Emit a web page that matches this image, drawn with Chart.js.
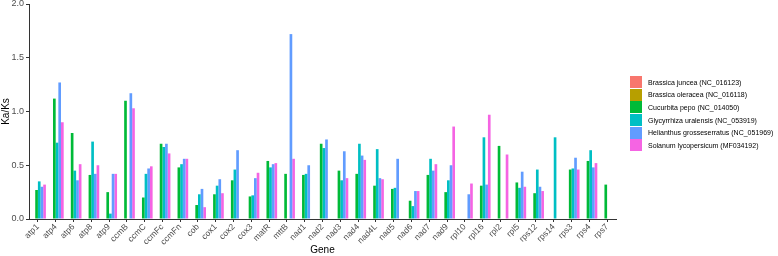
<!DOCTYPE html>
<html>
<head>
<meta charset="utf-8">
<script src="https://cdn.jsdelivr.net/npm/chart.js@4"></script>
<style>
  html, body { margin: 0; padding: 0; background: #fff; }
  #wrap { position: relative; width: 778px; height: 256px; }
  #legend { position: absolute; left: 630px; top: 76px; font-family: "Liberation Sans", Arial, sans-serif; font-size: 7px; color: #000; }
  #legend .row { height: 12.6px; display: flex; align-items: center; white-space: nowrap; }
  #legend .key { width: 12px; height: 12px; margin-right: 6px; }
</style>
</head>
<body>
<div id="wrap">
  <canvas id="chart" width="778" height="256"></canvas>
  <div id="legend"></div>
</div>
<script>
(function () {
  "use strict";

  const genes = ["atp1", "atp4", "atp6", "atp8", "atp9", "ccmB", "ccmC", "ccmFc", "ccmFn", "cob",
    "cox1", "cox2", "cox3", "matR", "mttB", "nad1", "nad2", "nad3", "nad4", "nad4L",
    "nad5", "nad6", "nad7", "nad9", "rpl10", "rpl16", "rpl2", "rpl5", "rps12", "rps14",
    "rps3", "rps4", "rps7"];

  const species = [
    "Brassica juncea (NC_016123)",
    "Brassica oleracea (NC_016118)",
    "Cucurbita pepo (NC_014050)",
    "Glycyrrhiza uralensis (NC_053919)",
    "Helianthus grosseserratus (NC_051969)",
    "Solanum lycopersicum (MF034192)",
  ];

  const colors = ["#F8766D", "#B79F00", "#00BA38", "#00BFC4", "#619CFF", "#F564E3"];

  const yTicks = [0, 0.5, 1.0, 1.5, 2.0];

  // Brassica series carry no visible bars in the figure
  const brassicaJuncea = genes.map(() => null);
  const brassicaOleracea = genes.map(() => null);

  const cucurbita = [0.27, 1.12, 0.80, 0.41, 0.25, 1.10, 0.20, 0.70, 0.48, 0.13,
    0.23, 0.36, 0.21, 0.54, 0.42, 0.41, 0.70, 0.45, 0.42, 0.31,
    0.28, 0.17, 0.41, 0.25, null, 0.31, 0.68, 0.34, 0.24, null,
    0.46, 0.54, 0.32];

  const glycyrrhiza = [0.35, 0.71, 0.45, 0.72, 0.05, null, 0.42, 0.67, 0.51, 0.23,
    0.31, 0.46, 0.22, 0.48, null, 0.42, 0.66, 0.36, 0.70, 0.65,
    0.29, 0.12, 0.56, 0.36, null, 0.76, null, 0.29, 0.46, 0.76,
    0.47, 0.64, null];

  const helianthus = [0.30, 1.27, 0.36, 0.42, 0.42, 1.17, 0.47, 0.70, 0.56, 0.28,
    0.37, 0.64, 0.38, 0.51, 1.72, 0.50, 0.74, 0.63, 0.59, 0.38,
    0.56, 0.26, 0.45, 0.50, 0.23, 0.32, null, 0.44, 0.30, null,
    0.57, 0.48, null];

  const solanum = [0.32, 0.90, 0.51, 0.50, 0.42, 1.03, 0.49, 0.61, 0.56, 0.11,
    0.24, null, 0.43, 0.52, 0.56, null, null, 0.38, 0.55, 0.37,
    null, 0.26, 0.51, 0.86, 0.33, 0.97, 0.60, 0.30, 0.26, null,
    0.46, 0.52, null];

  const seriesValues = [brassicaJuncea, brassicaOleracea, cucurbita, glycyrrhiza, helianthus, solanum];

  const fontFamily = '"Liberation Sans", Arial, sans-serif';

  function buildDatasets() {
    return species.map((name, i) => ({
      label: name,
      data: seriesValues[i],
      backgroundColor: colors[i],
      borderWidth: 0,
      categoryPercentage: 0.9,
      barPercentage: 1.0,
    }));
  }

  function renderLegend() {
    const legend = document.getElementById("legend");
    species.forEach((name, i) => {
      const row = document.createElement("div");
      row.className = "row";
      const key = document.createElement("div");
      key.className = "key";
      key.style.background = colors[i];
      const label = document.createElement("span");
      label.textContent = name;
      row.appendChild(key);
      row.appendChild(label);
      legend.appendChild(row);
    });
  }

  function renderChart() {
    const ctx = document.getElementById("chart");
    new Chart(ctx, {
      type: "bar",
      data: { labels: genes, datasets: buildDatasets() },
      options: {
        responsive: false,
        animation: false,
        devicePixelRatio: 1,
        layout: { padding: { top: 4, right: 162, left: 0, bottom: 0 } },
        plugins: { legend: { display: false }, tooltip: { enabled: false } },
        scales: {
          x: {
            offset: true,
            afterFit: (scale) => { scale.height = 37; },
            grid: { display: true, drawOnChartArea: false, offset: false, tickLength: 3, color: "#333333", tickColor: "#333333" },
            border: { display: true, color: "#333333", width: 1 },
            ticks: { minRotation: 45, maxRotation: 45, autoSkip: false, padding: 0, color: "#4D4D4D", font: { family: fontFamily, size: 8.5 } },
            title: { display: true, text: "Gene", color: "#000", padding: { top: 0, bottom: 0 }, font: { family: fontFamily, size: 10 } },
          },
          y: {
            min: 0,
            max: 2,
            afterFit: (scale) => {
              scale.width = 29;
              scale.paddingTop = 0;
              scale.paddingBottom = 0;
            },
            afterBuildTicks: (scale) => { scale.ticks = yTicks.map((v) => ({ value: v })); },
            grid: { display: true, drawOnChartArea: false, tickLength: 3, color: "#333333", tickColor: "#333333" },
            border: { display: true, color: "#333333", width: 1 },
            ticks: { padding: 2, color: "#4D4D4D", font: { family: fontFamily, size: 9 }, callback: (v) => Number(v).toFixed(1) },
            title: { display: true, text: "Ka/Ks", color: "#000", padding: { top: 0, bottom: 1 }, font: { family: fontFamily, size: 10 } },
          },
        },
      },
    });
  }

  renderLegend();
  renderChart();
})();
</script>
</body>
</html>
